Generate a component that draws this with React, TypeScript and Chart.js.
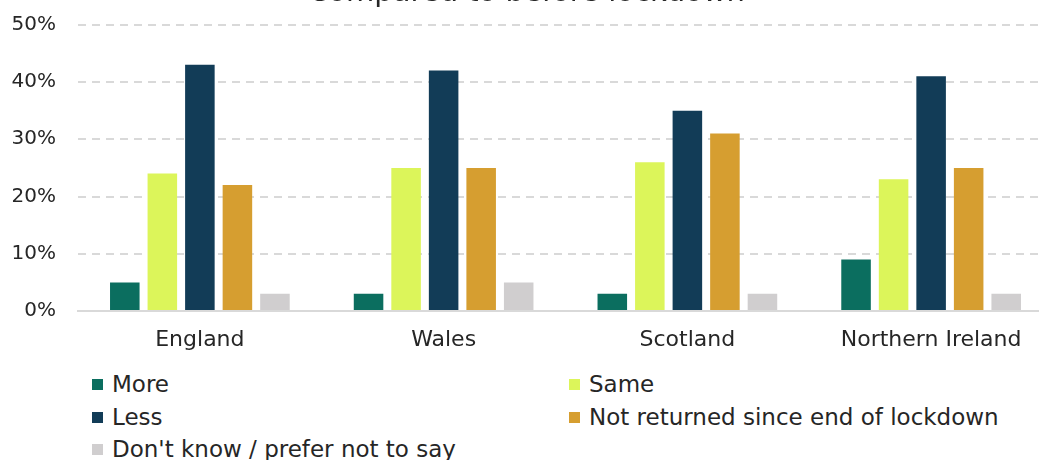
import React, { useEffect, useRef } from "react";
import { Chart, registerables } from "chart.js";

Chart.register(...registerables);

const categories = ["England", "Wales", "Scotland", "Northern Ireland"];
const seriesNames = ["More", "Same", "Less", "Not returned since end of lockdown", "Don't know / prefer not to say"];
const moreValues = [5, 3, 3, 9];
const sameValues = [24, 25, 26, 23];
const lessValues = [43, 42, 35, 41];
const notReturnedValues = [22, 25, 31, 25];
const dontKnowValues = [3, 5, 3, 3];
const seriesColors = ["#0b6e5f", "#dcf55a", "#123c57", "#d69e30", "#d0cecf"];
const yTicks = [0, 10, 20, 30, 40, 50];
const titleText = "Compared to before lockdown";

const FONT = "'DejaVu Sans', sans-serif";

export default function App() {
  const ref = useRef<HTMLCanvasElement | null>(null);

  useEffect(() => {
    if (!ref.current) return;
    const values = [moreValues, sameValues, lessValues, notReturnedValues, dontKnowValues];
    const chart = new Chart(ref.current, {
      type: "bar",
      data: {
        labels: categories,
        datasets: seriesNames.map((name, i) => ({
          label: name,
          data: values[i],
          backgroundColor: seriesColors[i],
          borderWidth: 0,
          categoryPercentage: 0.77,
          barPercentage: 0.787,
        })),
      },
      options: {
        responsive: false,
        animation: false,
        layout: { padding: 0 },
        plugins: {
          legend: { display: false },
          tooltip: { enabled: false },
          title: {
            display: true,
            text: titleText,
            color: "#262626",
            font: { family: FONT, size: 29, weight: "normal" },
            padding: { top: 0, bottom: 14 },
          },
        },
        scales: {
          x: {
            grid: { display: false, drawTicks: false },
            border: { display: true, color: "#d9d9d9", width: 2 },
            ticks: {
              color: "#262626",
              font: { family: FONT, size: 22 },
              padding: 16,
              maxRotation: 0,
              autoSkip: false,
            },
            afterFit: (scale: any) => {
              scale.height = 45;
            },
          },
          y: {
            min: 0,
            max: 50,
            afterBuildTicks: (scale: any) => {
              scale.ticks = yTicks.map((v) => ({ value: v }));
            },
            grid: { color: "#d9d9d9", lineWidth: 2, drawTicks: false },
            border: { display: false, dash: [8, 6] },
            ticks: {
              color: "#262626",
              font: { family: FONT, size: 20 },
              padding: 22,
              callback: (v: any) => v + "%",
            },
            afterFit: (scale: any) => {
              scale.width = 78;
            },
          },
        },
      },
    });
    return () => chart.destroy();
  }, []);

  const legendPos = [
    { x: 92, y: 384 },
    { x: 569, y: 384 },
    { x: 92, y: 417 },
    { x: 569, y: 417 },
    { x: 92, y: 449 },
  ];

  return (
    <div
      style={{
        position: "absolute",
        left: 0,
        top: 0,
        width: 1039,
        height: 460,
        overflow: "hidden",
        background: "#ffffff",
      }}
    >
      <canvas
        ref={ref}
        width={1053}
        height={380}
        style={{ position: "absolute", left: 0, top: -24, width: 1053, height: 380 }}
      />
      {seriesNames.map((name, i) => (
        <div
          key={name}
          style={{
            position: "absolute",
            left: legendPos[i].x,
            top: legendPos[i].y - 15,
            height: 30,
            display: "flex",
            alignItems: "center",
            whiteSpace: "nowrap",
            fontFamily: FONT,
            fontSize: 23,
            color: "#262626",
          }}
        >
          <span
            style={{
              display: "inline-block",
              width: 11,
              height: 11,
              background: seriesColors[i],
              marginRight: 9,
            }}
          />
          <span>{name}</span>
        </div>
      ))}
    </div>
  );
}
